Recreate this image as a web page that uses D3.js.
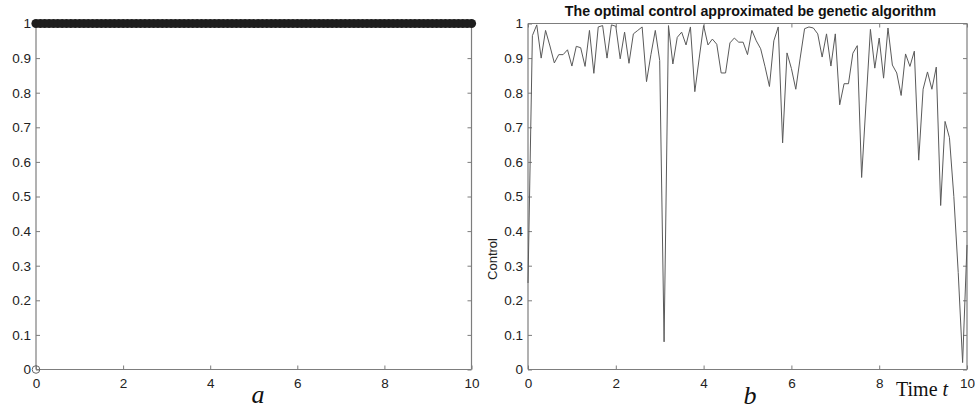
<!DOCTYPE html>
<html>
<head>
<meta charset="utf-8">
<script src="https://cdn.jsdelivr.net/npm/d3@7"></script>
<style>
  html, body { margin: 0; padding: 0; background: #fff; }
  svg { display: block; }
  .tick-label { font-family: "Liberation Sans", Arial, Helvetica, sans-serif; font-size: 13.5px; fill: #222; }
</style>
</head>
<body>
<svg id="fig" width="975" height="409"></svg>
<script>
// Time grid (s) shared by both panels
const timeGrid = d3.range(0, 10.0001, 0.1);

// Panel a: bang-bang control, held at its upper bound over the whole horizon
const controlA = [
  1,1,1,1,1,1,1,1,1,1, 1,1,1,1,1,1,1,1,1,1,
  1,1,1,1,1,1,1,1,1,1, 1,1,1,1,1,1,1,1,1,1,
  1,1,1,1,1,1,1,1,1,1, 1,1,1,1,1,1,1,1,1,1,
  1,1,1,1,1,1,1,1,1,1, 1,1,1,1,1,1,1,1,1,1,
  1,1,1,1,1,1,1,1,1,1, 1,1,1,1,1,1,1,1,1,1,
  1
];
// Initial-state marker drawn at the origin of panel a
const originMarker = [{ t: 0, u: 0 }];

// Panel b: control found by the genetic algorithm
const controlB = [
  0.25, 0.965, 0.996, 0.90, 0.98, 0.935, 0.886, 0.91, 0.91, 0.924,
  0.877, 0.934, 0.93, 0.876, 0.98, 0.856, 0.99, 0.994, 0.90, 0.996,
  0.992, 0.898, 0.975, 0.885, 0.97, 0.98, 0.99, 0.832, 0.91, 0.98,
  0.893, 0.08, 0.994, 0.883, 0.96, 0.975, 0.938, 0.99, 0.803, 0.90,
  0.994, 0.938, 0.955, 0.94, 0.857, 0.857, 0.944, 0.958, 0.946, 0.946,
  0.91, 0.98, 0.95, 0.927, 0.875, 0.818, 0.95, 0.99, 0.655, 0.915,
  0.87, 0.81, 0.90, 0.985, 0.99, 0.987, 0.97, 0.903, 0.97, 0.877,
  0.97, 0.765, 0.826, 0.826, 0.914, 0.936, 0.555, 0.77, 0.983, 0.871,
  0.958, 0.842, 0.987, 0.88, 0.857, 0.792, 0.912, 0.876, 0.92, 0.605,
  0.81, 0.86, 0.81, 0.874, 0.474, 0.717, 0.67, 0.50, 0.28, 0.02,
  0.36
];

// Axis ticks and labels
const xTicks = [0, 2, 4, 6, 8, 10];
const yTicks = [0, 0.1, 0.2, 0.3, 0.4, 0.5, 0.6, 0.7, 0.8, 0.9, 1];
const titleB = "The optimal control approximated be genetic algorithm";
const yLabelB = "Control";
const xLabelB = "Time ";
const xLabelVar = "t";
const panelTags = ["a", "b"];

const svg = d3.select("#fig");
const axisColor = "#7d7d7d";
const tickLen = 4;

function drawFrame(g, x, y) {
  const [x0, x1] = x.range();
  const [y0, y1] = y.range(); // y0 bottom, y1 top
  // bottom and left axes with labels
  const bottom = g.append("g").attr("transform", `translate(0,${y0})`)
    .call(d3.axisBottom(x).tickValues(xTicks).tickSize(-tickLen).tickPadding(9).tickFormat(d3.format("d")));
  const left = g.append("g").attr("transform", `translate(${x0},0)`)
    .call(d3.axisLeft(y).tickValues(yTicks).tickSize(-tickLen).tickPadding(5).tickFormat(d => d === 0 || d === 1 ? String(d) : d3.format(".1f")(d)));
  // mirrored top and right axes, ticks only
  const top = g.append("g").attr("transform", `translate(0,${y1})`)
    .call(d3.axisTop(x).tickValues(xTicks).tickSize(-tickLen).tickFormat(""));
  const right = g.append("g").attr("transform", `translate(${x1},0)`)
    .call(d3.axisRight(y).tickValues(yTicks).tickSize(-tickLen).tickFormat(""));
  [bottom, left, top, right].forEach(a => {
    a.select(".domain").attr("stroke", axisColor).attr("stroke-width", 1.2);
    a.selectAll(".tick line").attr("stroke", axisColor).attr("stroke-width", 1);
    a.selectAll(".tick text").attr("class", "tick-label").attr("fill", null);
    a.attr("font-family", null).attr("font-size", null);
  });
  // trim outer tick stubs drawn by d3 on the domain path
  [bottom, top].forEach(a => a.select(".domain").attr("d", `M${x0},0H${x1}`));
  [left, right].forEach(a => a.select(".domain").attr("d", `M0,${y0}V${y1}`));
}

// ---------- panel a ----------
const xA = d3.scaleLinear().domain([0, 10]).range([36, 471.5]);
const yA = d3.scaleLinear().domain([0, 1]).range([369.5, 23.5]);
const gA = svg.append("g");
drawFrame(gA, xA, yA);

gA.append("g").selectAll("circle.u")
  .data(controlA)
  .join("circle")
  .attr("cx", (d, i) => xA(timeGrid[i]))
  .attr("cy", d => yA(d))
  .attr("r", 4.6)
  .attr("fill", "#1e1e1e");

gA.append("g").selectAll("circle.o")
  .data(originMarker)
  .join("circle")
  .attr("cx", d => xA(d.t))
  .attr("cy", d => yA(d.u))
  .attr("r", 3.8)
  .attr("fill", "none")
  .attr("stroke", "#666")
  .attr("stroke-width", 1);

svg.append("text")
  .attr("x", 258).attr("y", 403)
  .attr("text-anchor", "middle")
  .attr("font-family", "'Liberation Serif', 'Times New Roman', serif")
  .attr("font-style", "italic")
  .attr("font-size", 26)
  .attr("fill", "#111")
  .text(panelTags[0]);

// ---------- panel b ----------
const xB = d3.scaleLinear().domain([0, 10]).range([528, 967]);
const yB = d3.scaleLinear().domain([0, 1]).range([369.5, 23.5]);
const gB = svg.append("g");
drawFrame(gB, xB, yB);

const line = d3.line()
  .x((d, i) => xB(timeGrid[i]))
  .y(d => yB(d));

gB.append("path")
  .datum(controlB)
  .attr("d", line)
  .attr("fill", "none")
  .attr("stroke", "#5a5a5a")
  .attr("stroke-width", 1)
  .attr("stroke-linejoin", "miter");

svg.append("text")
  .attr("x", (xB.range()[0] + xB.range()[1]) / 2 + 3)
  .attr("y", 16)
  .attr("text-anchor", "middle")
  .attr("font-family", "'Liberation Sans', Arial, Helvetica, sans-serif")
  .attr("font-weight", "bold")
  .attr("font-size", 14.2)
  .attr("fill", "#111")
  .text(titleB);

svg.append("text")
  .attr("transform", "translate(497,259) rotate(-90)")
  .attr("text-anchor", "middle")
  .attr("font-family", "'Liberation Sans', Arial, Helvetica, sans-serif")
  .attr("font-size", 13)
  .attr("fill", "#222")
  .text(yLabelB);

const xl = svg.append("text")
  .attr("x", 896).attr("y", 396)
  .attr("font-family", "'Liberation Serif', 'Times New Roman', serif")
  .attr("font-size", 20)
  .attr("fill", "#111");
xl.append("tspan").text(xLabelB);
xl.append("tspan").attr("font-style", "italic").text(xLabelVar);

svg.append("text")
  .attr("x", 750).attr("y", 404)
  .attr("text-anchor", "middle")
  .attr("font-family", "'Liberation Serif', 'Times New Roman', serif")
  .attr("font-style", "italic")
  .attr("font-size", 26)
  .attr("fill", "#111")
  .text(panelTags[1]);
</script>
</body>
</html>
